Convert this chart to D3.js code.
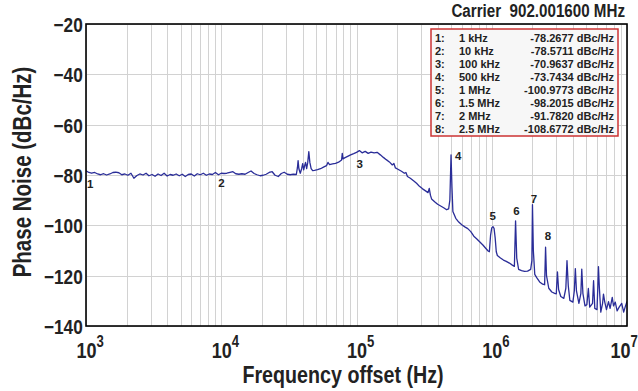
<!DOCTYPE html>
<html><head><meta charset="utf-8">
<script src="https://cdn.jsdelivr.net/npm/d3@7"></script>
<style>
html,body{margin:0;padding:0;background:#fff;}
svg{display:block;}
</style></head><body>
<svg id="chart" width="638" height="391"></svg>
<script>
// ---------- data ----------
const xTickValues = [1e3, 1e4, 1e5, 1e6, 1e7];
const xTickExponents = ["3", "4", "5", "6", "7"];
const yTickValues = [-20, -40, -60, -80, -100, -120, -140];
const carrierText = "Carrier  902.001600 MHz";
const xAxisTitle = "Frequency offset (Hz)";
const yAxisTitle = "Phase Noise (dBc/Hz)";

const markerIds = [1, 2, 3, 4, 5, 6, 7, 8];
const markerFreqLabels = ["1 kHz", "10 kHz", "100 kHz", "500 kHz", "1 MHz", "1.5 MHz", "2 MHz", "2.5 MHz"];
const markerFreqHz = [1e3, 1e4, 1e5, 5e5, 1e6, 1.5e6, 2e6, 2.5e6];
const markerValues = [-78.2677, -78.5711, -70.9637, -73.7434, -100.9773, -98.2015, -91.7820, -108.6772];

// measured trace: [offset frequency Hz, phase noise dBc/Hz]
const trace = [
 [1000,-78.3],[1050,-79.0],[1100,-79.3],[1160,-79.0],[1220,-79.6],[1280,-79.9],[1350,-79.5],[1420,-80.0],[1500,-79.6],[1580,-79.0],
 [1660,-78.9],[1750,-79.1],[1840,-79.9],[1940,-79.6],[2040,-80.1],[2150,-79.3],[2260,-81.3],[2380,-80.2],[2500,-79.6],[2640,-80.0],
 [2780,-79.3],[2920,-80.3],[3080,-79.8],[3240,-80.5],[3410,-79.6],[3590,-80.2],[3780,-79.3],[3980,-80.4],[4190,-79.8],[4410,-80.1],
 [4640,-79.6],[4890,-80.3],[5150,-79.7],[5420,-80.6],[5700,-79.8],[6000,-79.6],[6320,-80.4],[6650,-79.5],[7000,-79.9],[7370,-79.3],
 [7760,-80.1],[8170,-79.6],[8600,-79.8],[9050,-79.0],[9530,-79.9],
 [10000,-79.3],[10500,-79.4],[11000,-79.3],[11600,-79.0],[12200,-78.7],[12800,-79.5],[13500,-79.7],[14200,-79.5],[15000,-79.7],[15800,-79.0],
 [16600,-78.4],[17500,-79.4],[18400,-79.9],[19400,-80.3],[20400,-80.1],[21500,-79.7],[22600,-79.0],[23800,-78.7],[25000,-80.1],[26400,-80.6],
 [27800,-79.4],[29200,-78.9],[30800,-79.7],[32400,-79.9],[34100,-79.7],[35900,-79.8],
 [36600,-77.0],[37000,-74.3],[37500,-77.5],[38400,-79.3],[39300,-77.5],[40000,-75.5],[40700,-78.0],[41500,-76.0],[42000,-75.0],[42800,-77.5],
 [43600,-75.0],[44400,-70.7],[45200,-75.0],[46200,-77.5],[47400,-78.3],[48900,-78.2],[51500,-77.9],[54200,-77.5],[57000,-76.9],[60000,-76.3],
 [61500,-75.0],[63200,-75.9],[66500,-75.6],[70000,-75.4],[73700,-74.9],[77600,-74.0],[78500,-71.4],[79500,-73.6],[81700,-73.2],[86000,-72.6],
 [90500,-72.0],[95300,-71.5],
 [100000,-71.0],[105000,-70.3],[110000,-71.2],[116000,-70.6],[122000,-71.4],[128000,-70.9],[135000,-71.2],[142000,-71.0],[150000,-72.0],[158000,-73.0],
 [166000,-73.9],[175000,-74.8],[184000,-76.0],[189000,-75.4],[194000,-77.2],[204000,-77.8],[215000,-78.5],[226000,-79.3],[232000,-79.0],[238000,-80.6],
 [250000,-81.3],[264000,-82.3],[278000,-83.3],[292000,-84.5],[308000,-85.5],[324000,-86.3],[338000,-87.0],[345000,-85.3],[352000,-88.0],[359000,-89.5],
 [378000,-90.6],[398000,-91.6],[419000,-92.3],[441000,-93.0],[464000,-93.8],[480000,-93.5],[490000,-90.0],[500000,-72.0],[508000,-85.0],[516000,-94.5],
 [542000,-97.2],[570000,-98.7],[600000,-99.8],[632000,-100.6],[665000,-101.3],[700000,-102.5],[737000,-104.3],[776000,-105.4],[817000,-106.6],[860000,-107.8],
 [905000,-109.2],[940000,-110.2],[960000,-110.5],[980000,-104.0],[1000000,-101.0],[1020000,-100.5],[1040000,-101.2],[1060000,-105.0],[1080000,-110.5],[1100000,-112.0],
 [1160000,-113.0],[1220000,-113.8],[1280000,-114.3],[1350000,-115.0],[1420000,-115.8],[1470000,-116.3],[1500000,-98.2],[1530000,-113.0],[1580000,-117.5],[1660000,-118.0],
 [1750000,-118.3],[1840000,-118.2],[1940000,-117.5],[1980000,-114.0],[2000000,-91.8],[2030000,-110.0],[2080000,-119.5],[2150000,-120.8],[2260000,-122.5],[2380000,-123.4],
 [2460000,-123.6],[2500000,-108.7],[2540000,-120.0],[2640000,-125.0],[2780000,-126.5],[2920000,-127.0],[3000000,-127.2],[3060000,-118.5],[3120000,-125.5],[3240000,-128.3],
 [3410000,-129.0],[3530000,-125.0],[3600000,-114.0],[3680000,-124.0],[3780000,-129.8],[3980000,-130.5],[4080000,-126.0],[4150000,-117.2],[4230000,-126.0],[4410000,-131.0],
 [4560000,-127.0],[4630000,-117.4],[4720000,-127.0],[4890000,-132.0],[5050000,-131.5],[5180000,-125.1],[5300000,-132.5],[5560000,-131.0],[5660000,-122.0],[5780000,-133.0],
 [6000000,-133.5],[6080000,-125.0],[6150000,-116.4],[6250000,-125.0],[6400000,-134.5],[6600000,-131.0],[6700000,-127.3],[6850000,-130.5],[7050000,-133.5],[7300000,-130.3],
 [7500000,-133.0],[7780000,-128.6],[7950000,-132.0],[8190000,-130.5],[8450000,-134.0],[8750000,-132.5],[9140000,-131.0],[9450000,-134.5],[9750000,-132.0],[10000000,-130.3]
];

// ---------- layout / style ----------
const SANS = "'Liberation Sans',Arial,Helvetica,sans-serif";
const NARROW_SCALE = 0.82;   // condensed look (Helvetica Condensed Bold)
const plot = {left: 86, right: 627, top: 24, bottom: 326};
// per-label annotation offsets [dx, dy, anchor]
const labelOffsets = [[1,17,"start"],[-3,16,"start"],[0,16,"start"],[4,1,"start"],[1,-8,"middle"],[1,-6,"middle"],[1.5,-2,"middle"],[2.5,-7,"middle"]];

const svg = d3.select("#chart");
const x = d3.scaleLog().domain([1e3, 1e7]).range([plot.left, plot.right]);
const y = d3.scaleLinear().domain([-140, -20]).range([plot.bottom, plot.top]);

svg.append("rect").attr("width", 638).attr("height", 391).attr("fill", "#fff");

function narrowText(parent, tx, ty, rot, size, anchor, str) {
  const g = parent.append("g").attr("transform", `translate(${tx},${ty}) rotate(${rot}) scale(${NARROW_SCALE},1)`);
  return g.append("text").attr("text-anchor", anchor)
    .attr("font-family", SANS).attr("font-weight", "bold").attr("font-size", size).attr("fill", "#222")
    .style("white-space", "pre").text(str);
}

// grid
const grid = svg.append("g").attr("stroke", "#d2d2d2").attr("stroke-width", 1);
grid.selectAll("line.v").data(x.ticks()).join("line")
  .attr("x1", d => Math.round(x(d)) + 0.5).attr("x2", d => Math.round(x(d)) + 0.5)
  .attr("y1", plot.top).attr("y2", plot.bottom);
grid.selectAll("line.h").data(yTickValues).join("line")
  .attr("x1", plot.left).attr("x2", plot.right)
  .attr("y1", d => Math.round(y(d)) + 0.5).attr("y2", d => Math.round(y(d)) + 0.5);

// trace
svg.append("clipPath").attr("id", "clip").append("rect")
  .attr("x", plot.left).attr("y", plot.top).attr("width", plot.right - plot.left).attr("height", plot.bottom - plot.top);
const line = d3.line().x(d => x(d[0])).y(d => y(d[1]));
svg.append("path").datum(trace).attr("clip-path", "url(#clip)")
  .attr("fill", "none").attr("stroke", "#2a2d98").attr("stroke-width", 1.3)
  .attr("stroke-linejoin", "round").attr("d", line);

// marker labels
svg.append("g").selectAll("text").data(markerIds).join("text")
  .attr("x", (d, i) => x(markerFreqHz[i]) + labelOffsets[i][0])
  .attr("y", (d, i) => y(markerValues[i]) + labelOffsets[i][1])
  .attr("text-anchor", (d, i) => labelOffsets[i][2])
  .attr("font-family", SANS).attr("font-weight", "bold").attr("font-size", 11.5).attr("fill", "#222")
  .text(d => d);

// frame
svg.append("rect").attr("x", plot.left).attr("y", plot.top)
  .attr("width", plot.right - plot.left).attr("height", plot.bottom - plot.top)
  .attr("fill", "none").attr("stroke", "#000").attr("stroke-width", 1.6);

// y axis
const yAxis = svg.append("g").attr("transform", `translate(${plot.left},0)`)
  .call(d3.axisLeft(y).tickValues(yTickValues).tickSize(0).tickPadding(4).tickFormat(d3.format("d")));
yAxis.select(".domain").remove();
yAxis.selectAll("text").attr("font-family", SANS).attr("font-weight", "bold").attr("font-size", 21)
  .attr("fill", "#222").attr("dy", "0.36em").attr("transform", `scale(${NARROW_SCALE},1)`);

// x axis: "10" centred on the tick, exponent hanging to the right
const baseSize = 22, expSize = 16;
const xAxis = svg.append("g").attr("transform", `translate(0,${plot.bottom})`)
  .call(d3.axisBottom(x).tickValues(xTickValues).tickSize(0).tickPadding(0).tickFormat(() => ""));
xAxis.select(".domain").remove();
xAxis.selectAll(".tick text").each(function(d, i) {
  const last = i === xTickValues.length - 1;
  const shift = last ? -7 / NARROW_SCALE : 0;   // keep the last label inside the picture
  const t = d3.select(this).attr("y", 32).attr("dy", 0).attr("transform", `scale(${NARROW_SCALE},1)`)
    .attr("font-family", SANS).attr("font-weight", "bold").attr("fill", "#222").attr("text-anchor", "start")
    .attr("x", -baseSize * 0.556 + shift);
  t.append("tspan").attr("font-size", baseSize).text("10");
  t.append("tspan").attr("font-size", expSize).attr("dy", -11).text(xTickExponents[i]);
});

// axis titles
narrowText(svg, 343, 383, 0, 24, "middle", xAxisTitle);
narrowText(svg, 31, 172, -90, 25, "middle", yAxisTitle);

// carrier title
narrowText(svg, 625, 17, 0, 18.5, "end", carrierText);

// legend
const lg = svg.append("g");
lg.append("rect").attr("x", 431).attr("y", 29).attr("width", 187).attr("height", 107)
  .attr("fill", "#f7f7f7").attr("stroke", "#cc3333").attr("stroke-width", 1.5);
const rows = lg.selectAll("g.row").data(markerIds).join("g")
  .attr("transform", (d, i) => `translate(0,${41.5 + i * 13.07})`)
  .attr("font-family", SANS).attr("font-weight", "bold").attr("font-size", 11).attr("fill", "#222");
rows.append("text").attr("x", 435).text(d => d + ":");
rows.append("text").attr("x", 459).text((d, i) => markerFreqLabels[i]);
rows.append("text").attr("x", 614).attr("text-anchor", "end")
  .text((d, i) => markerValues[i].toFixed(4) + " dBc/Hz");
</script>
</body></html>
